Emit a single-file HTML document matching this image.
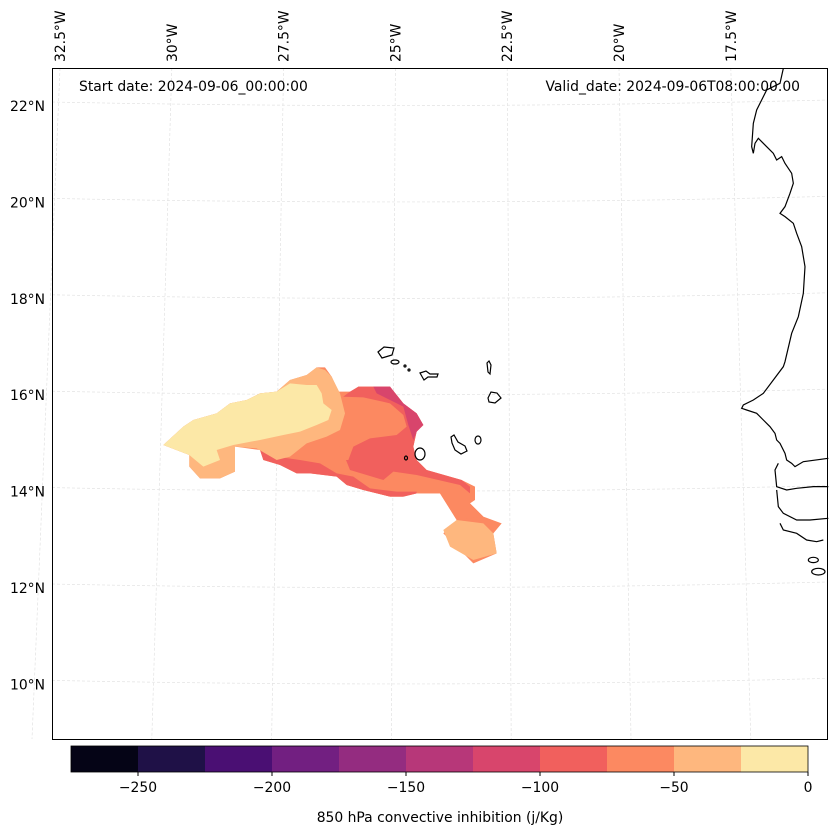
<!DOCTYPE html>
<html><head><meta charset="utf-8"><style>
body{margin:0;background:#fff;}
svg{display:block;font-family:"DejaVu Sans","Liberation Sans",sans-serif;}
</style></head><body>
<svg width="837" height="836" viewBox="0 0 837 836">
<g id="grid"></g>
<g transform="translate(150,360) scale(0.33333)">
 <polygon fill="#fc8961" points="40,255 100,200 130,180 200,160 240,130 290,120 330,100 380,95 420,60 470,45 500,22 525,22 545,50 565,95 610,95 625,80 720,80 760,130 800,160 820,195 800,215 790,260 800,300 830,330 935,360 975,380 975,420 960,430 1000,470 1055,490 1030,520 1040,580 970,610 880,520 920,480 870,400 800,400 760,410 720,410 640,390 590,375 560,350 480,340 440,340 390,315 340,300 330,270 255,260 255,335 210,355 150,355 118,320 118,285"/>
 <polygon fill="#f1605d" points="600,95 625,80 720,80 760,130 800,160 820,195 800,215 790,260 800,300 830,330 935,360 960,380 960,400 800,360 700,360 600,330 580,280 580,110"/>
 <polygon fill="#fc8961" points="570,110 640,112 720,130 760,165 770,200 740,225 660,235 610,260 595,300 575,300 560,200"/>
 <polygon fill="#fc8961" points="560,340 600,340 640,355 700,360 730,335 800,345 930,375 960,400 960,430 1000,470 920,480 870,400 800,400 760,410 720,410 640,390 590,375"/>
 <polygon fill="#f1605d" points="330,270 380,290 450,300 510,310 560,340 610,350 660,385 740,395 800,395 800,400 760,410 720,410 640,390 590,375 560,350 480,340 440,340 390,315 340,300"/>
 <polygon fill="#d8456c" points="670,80 720,80 760,130 800,160 820,195 800,215 790,240 775,195 760,140 720,120 680,100"/>
 <polygon fill="#feb77e" points="40,255 100,200 130,180 200,160 240,130 290,120 330,100 380,95 420,60 470,45 500,22 525,30 545,50 570,100 585,160 570,210 530,230 470,250 420,290 380,300 320,265 255,260 255,335 210,355 150,355 118,320 118,285"/>
 <polygon fill="#feb77e" points="880,510 920,480 1000,490 1030,520 1040,580 970,600 900,560"/>
 <polygon fill="#fce8a7" points="40,255 100,200 130,180 200,160 240,130 290,120 330,100 380,95 420,70 470,75 500,75 515,100 520,130 545,150 535,180 500,195 450,215 400,225 330,240 250,255 200,270 210,300 160,320 130,295 118,285"/>
</g>
<g transform="translate(730,60) scale(0.33333)" fill="none" stroke="#000" stroke-width="3.6">
 <polyline points="160,25 150,70 110,90 80,150 70,190 65,260 70,280 75,250 85,235 110,260 130,280 140,300 155,290 165,310 185,340 190,370 180,400 165,440 150,460 165,470 190,490 200,520 215,560 225,620 220,700 205,770 185,820 165,905 160,920 130,960 100,1000 70,1020 40,1035 35,1045 50,1050 80,1060 100,1080 120,1100 135,1120 140,1140 150,1150 165,1180 170,1200 185,1210 195,1220 220,1205 295,1195"/>
 <polyline points="295,1280 250,1280 200,1285 170,1290 140,1280 135,1230 145,1210"/>
 <polyline points="140,1290 145,1340 160,1360 200,1380 240,1380 295,1375"/>
 <polyline points="150,1390 160,1410 200,1420 230,1440 260,1445 280,1440"/>
 <ellipse cx="250" cy="1500" rx="15" ry="8"/><ellipse cx="265" cy="1535" rx="20" ry="10"/>
</g>
<g fill="none" stroke="#000" stroke-width="1.2">
 <path d="M378,352 l6,-5 l10,1 l-2,7 l-10,3 z"/><ellipse cx="395" cy="362" rx="4" ry="2"/><circle cx="405" cy="366" r="1"/><circle cx="409" cy="370" r="1"/>
 <path d="M420,373 l6,-2 l4,3 l8,0 l-1,3 l-9,0 l-4,3 z"/>
 <path d="M487,363 l2,-2 l2,4 l-1,9 l-2,-2 z"/>
 <path d="M488,398 l3,-6 l6,1 l4,5 l-6,5 l-6,-1 z"/>
 <path d="M451,437 l3,-2 l4,7 l7,4 l2,5 l-6,3 l-6,-4 l-3,-7 z"/>
 <ellipse cx="478" cy="440" rx="3" ry="4"/><ellipse cx="420" cy="454" rx="5" ry="6"/><ellipse cx="406" cy="458" rx="1.5" ry="2"/>
</g>
<rect x="52.5" y="68.5" width="775" height="671" fill="none" stroke="#000" stroke-width="1"/>
<g font-size="13.9" fill="#000">
 <text x="79" y="91">Start date: 2024-09-06_00:00:00</text>
 <text x="800" y="91" text-anchor="end">Valid_date: 2024-09-06T08:00:00.00</text>
</g>
<g id="latlabels" font-size="13.9"></g>
<g id="lonlabels" font-size="13.9"></g>
<g id="cbar"></g>
<text x="440" y="822" font-size="13.9" text-anchor="middle">850 hPa convective inhibition (j/Kg)</text>
</svg>
<script>
const NS="http://www.w3.org/2000/svg";
const latValues=[22,20,18,16,14,12,10];
const lonValues=["32.5°W","30°W","27.5°W","25°W","22.5°W","20°W","17.5°W"];
const cbarBounds=[-275,-250,-225,-200,-175,-150,-125,-100,-75,-50,-25,0];
const cbarColors=["#050416","#1f1147","#4a0f73","#721f81","#942c80","#b73779","#d8456c","#f1605d","#fc8961","#feb77e","#fce8a7"];
const cbarTicks=[-250,-200,-150,-100,-50,0];
function yLat(l){return 106+(22-l)*48.2;}
function xLonTop(i){return 60+i*111.8;}
function xLonBot(i){return 32+i*119.8;}
function xC(v){return 808+v*2.68;}
function mk(t,a,p){const e=document.createElementNS(NS,t);for(const k in a)e.setAttribute(k,a[k]);p.appendChild(e);return e;}
const grid=document.getElementById('grid');
latValues.forEach(l=>{const y=yLat(l);
 const ln=mk('path',{d:`M52,${y-4} Q440,${y+4} 827,${y-6}`,stroke:"#e2e2e2","stroke-width":0.7,"stroke-dasharray":"3,2",fill:"none"},grid);
 
 
 const t=mk('text',{x:45,y:y+5,"text-anchor":"end"},document.getElementById('latlabels'));
 t.textContent=l+"°N";
 
 
});
lonValues.forEach((s,i)=>{
 const ln=mk('line',{x1:xLonTop(i),y1:68,x2:xLonBot(i),y2:739,stroke:"#e2e2e2","stroke-width":0.7,"stroke-dasharray":"3,2"},grid);
 
 
 const x=xLonTop(i)+5;
 const t=mk('text',{x:0,y:0,transform:`translate(${x},62) rotate(-90)`},document.getElementById('lonlabels'));
 t.textContent=s;
 
 
});
const cb=document.getElementById('cbar');
cbarColors.forEach((c,i)=>{
 const r=mk('rect',{x:xC(cbarBounds[i]),y:746,width:xC(cbarBounds[i+1])-xC(cbarBounds[i]),height:26,fill:c},cb);
 
 
});
mk('rect',{x:xC(-275),y:746,width:xC(0)-xC(-275),height:26,fill:"none",stroke:"#000","stroke-width":0.8},cb);
cbarTicks.forEach(v=>{
 mk('line',{x1:xC(v),y1:772,x2:xC(v),y2:776,stroke:"#000"},cb);
 const t=mk('text',{x:xC(v),y:792,"font-size":13.9,"text-anchor":"middle"},cb);
 t.textContent=v<0?"\u2212"+Math.abs(v):v;
 
 
});
</script>
</body></html>
